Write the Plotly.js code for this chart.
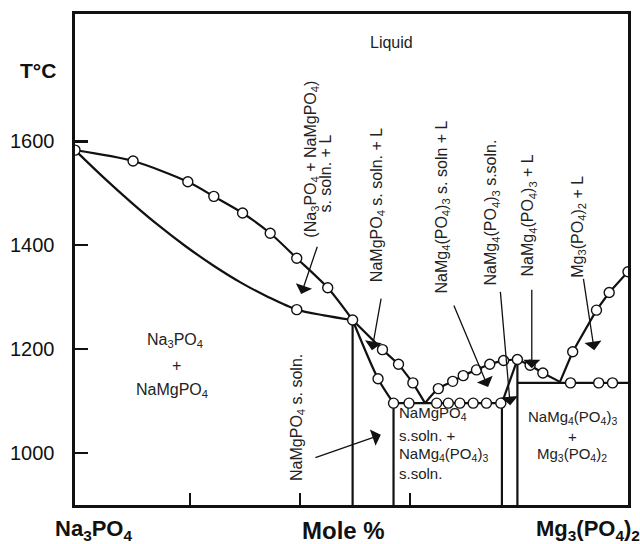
<!DOCTYPE html>
<html>
<head>
<meta charset="utf-8">
<script src="https://cdn.plot.ly/plotly-3.0.1.min.js"></script>
<style>html,body{margin:0;padding:0;background:#fff;}#chart{width:640px;height:544px;}</style>
</head>
<body>
<div id="chart"></div>
<script>
// Composition: mole % Mg3(PO4)2 ; temperature: °C
// Liquidus, Na3PO4 side down to NaMgPO4 congruent point
const liqAX = [0, 10.5, 20.4, 25.1, 30.3, 35.3, 40.1, 45.7, 50.2];
const liqAT = [1583, 1562, 1522, 1494, 1462, 1423, 1375, 1318, 1256];
// Liquidus from 50% down to first eutectic
const liqBX = [50.2, 55.6, 58.5, 61.1, 63.3];
const liqBT = [1256, 1199, 1171, 1135, 1096];
// Solidus (Na3PO4 + NaMgPO4) lower curve
const solAX = [0, 5, 10, 15, 20, 25, 30, 35, 40.1, 45, 50.2];
const solAT = [1583, 1532, 1484, 1439, 1398, 1361, 1328, 1300, 1276, 1265, 1256];
// NaMgPO4 s.soln. boundary
const solBX = [50.2, 54.8, 57.6];
const solBT = [1256, 1143, 1096];
// Eutectic line 1
const eut1X = [57.6, 77.2];
const eut1T = [1096, 1096];
// NaMg4(PO4)3 liquidus, rising from eutectic to the maximum and down to eutectic 2
const liqCX = [63.3, 65.7, 68.3, 70.2, 72.6, 75.0, 77.5, 80.0];
const liqCT = [1096, 1124, 1138, 1149, 1160, 1171, 1178, 1180];
const liqDX = [80.0, 82.3, 84.6, 87.7];
const liqDT = [1180, 1169, 1154, 1137];
// NaMg4(PO4)3 s.soln. boundary
const solCX = [80.0, 77.2];
const solCT = [1180, 1096];
// Eutectic line 2
const eut2X = [80, 100];
const eut2T = [1135, 1135];
// Mg3(PO4)2 liquidus
const liqEX = [87.7, 90.0, 94.3, 96.6, 100];
const liqET = [1137, 1195, 1275, 1309, 1349];
// Vertical phase boundaries (composition, top temperature)
const vertX = [50.2, 57.6, 77.2, 80.0];
const vertTop = [1256, 1096, 1096, 1180];
const axisBottomT = 900;
// Experimental points (open circles)
const ptX = [0, 10.5, 20.4, 25.1, 30.3, 35.3, 40.1, 45.7, 50.2, 55.6, 58.5, 61.1,
             40.1, 54.8,
             57.6, 60.4, 65.4, 67.5, 69.6, 72.0, 74.4, 77.0,
             65.7, 68.3, 70.2, 72.6, 75.0, 77.5, 80.0, 82.3, 84.6,
             89.6, 94.7, 97.2,
             90.0, 94.3, 96.6, 100];
const ptT = [1583, 1562, 1522, 1494, 1462, 1423, 1375, 1318, 1256, 1199, 1171, 1135,
             1276, 1143,
             1096, 1096, 1096, 1096, 1096, 1096, 1096, 1096,
             1124, 1138, 1149, 1160, 1171, 1178, 1180, 1169, 1154,
             1135, 1135, 1135,
             1195, 1275, 1309, 1349];
// Axis ticks
const yTicks = [1000, 1200, 1400, 1600];
const yTickText = ['1000', '1200', '1400', '1600'];
const xTicks = [20.8, 40.6, 60.5];

const LW = 2.2, C = '#111';
const FONT = 'Liberation Sans, Arial, sans-serif';
function line(x, y, shape) {
  return {x: x, y: y, type: 'scatter', mode: 'lines', line: {color: C, width: LW, shape: shape || 'linear', smoothing: 0.8}, hoverinfo: 'skip', showlegend: false};
}
const traces = [
  line(liqAX, liqAT, 'spline'),
  line(liqBX, liqBT),
  line(solAX, solAT, 'spline'),
  line(solBX, solBT, 'spline'),
  line(eut1X, eut1T),
  line(liqCX, liqCT, 'spline'),
  line(liqDX, liqDT),
  line(solCX, solCT),
  line(eut2X, eut2T),
  line(liqEX, liqET),
];
vertX.forEach((vx, i) => traces.push(line([vx, vx], [axisBottomT, vertTop[i]])));
traces.push({x: ptX, y: ptT, type: 'scatter', mode: 'markers', marker: {symbol: 'circle', size: 10, color: '#fff', line: {color: C, width: 1.4}}, hoverinfo: 'skip', showlegend: false});

const lab = 16;
function txt(x, y, t, opts) {
  return Object.assign({x: x, y: y, xref: 'x', yref: 'y', text: t, showarrow: false, xanchor: 'center', yanchor: 'middle',
    font: {family: FONT, size: lab, color: '#222'}}, opts || {});
}
function rot(x, y, t) { return txt(x, y, t, {textangle: -90}); }
const boxFont = {family: FONT, size: 15, color: '#222'};
function box(x, y, t, anchor) { return txt(x, y, t, {xanchor: anchor || 'center', font: boxFont}); }
function arr(x, y, ax, ay) {
  return {x: x, y: y, ax: ax, ay: ay, xref: 'x', yref: 'y', axref: 'x', ayref: 'y', text: '', showarrow: true, arrowhead: 1, arrowsize: 2.2, arrowwidth: 1.3, arrowcolor: C, standoff: 0};
}
// pixel-positioned axis labels (outside the plot area)
const W = 640, H = 544, M = {l: 75, r: 12, t: 14, b: 39};
const pw = W - M.l - M.r, ph = H - M.t - M.b;
function pix(px, py, t, size) {
  return {x: (px - M.l) / pw, y: (H - M.b - py) / ph, xref: 'paper', yref: 'paper', xanchor: 'center', yanchor: 'middle',
    text: t, showarrow: false, font: {family: FONT, size: size, color: '#111'}};
}
const annotations = [
  txt(57.3, 1790, 'Liquid'),
  rot(42.8, 1566, '(Na<sub>3</sub>PO<sub>4</sub> + NaMgPO<sub>4</sub>)'),
  rot(45.3, 1537, 's. soln. + L'),
  rot(54.6, 1477, 'NaMgPO<sub>4</sub> s. soln. + L'),
  rot(66.5, 1474, 'NaMg<sub>4</sub>(PO<sub>4</sub>)<sub>3</sub> s. soln + L'),
  rot(75.4, 1463, 'NaMg<sub>4</sub>(PO<sub>4</sub>)<sub>3</sub> s.soln.'),
  rot(82.0, 1458, 'NaMg<sub>4</sub>(PO<sub>4</sub>)<sub>3</sub> + L'),
  rot(91.0, 1436, 'Mg<sub>3</sub>(PO<sub>4</sub>)<sub>2</sub> + L'),
  rot(40.1, 1069, 'NaMgPO<sub>4</sub> s. soln.'),
  txt(18.1, 1217, 'Na<sub>3</sub>PO<sub>4</sub>'),
  txt(18.4, 1169, '+'),
  txt(17.6, 1121, 'NaMgPO<sub>4</sub>'),
  box(58.3, 1077, 'NaMgPO<sub>4</sub>', 'left'),
  box(58.3, 1033, 's.soln. +', 'left'),
  box(58.3, 998, 'NaMg<sub>4</sub>(PO<sub>4</sub>)<sub>3</sub>', 'left'),
  box(58.3, 961, 's.soln.', 'left'),
  box(89.9, 1069, 'NaMg<sub>4</sub>(PO<sub>4</sub>)<sub>3</sub>'),
  box(89.9, 1031, '+'),
  box(89.9, 997, 'Mg<sub>3</sub>(PO<sub>4</sub>)<sub>2</sub>'),
  // arrows
  arr(40.9, 1306, 43.9, 1400),
  arr(53.7, 1198, 55.4, 1300),
  arr(74.7, 1127, 68.4, 1287),
  arr(78.7, 1092, 76.9, 1313),
  arr(82.6, 1163, 82.6, 1317),
  arr(93.9, 1198, 91.9, 1338),
  arr(55.3, 1035, 43.2, 990),
  // axis labels
  pix(38, 71, '<b>T°C</b>', 21),
  pix(93, 530, '<b>Na<sub>3</sub>PO<sub>4</sub></b>', 22),
  pix(343, 530, '<b>Mole %</b>', 24),
  pix(588, 530, '<b>Mg<sub>3</sub>(PO<sub>4</sub>)<sub>2</sub></b>', 22),
];

const layout = {
  width: W, height: H,
  margin: M,
  paper_bgcolor: '#fff', plot_bgcolor: '#fff',
  showlegend: false,
  xaxis: {range: [0, 100], showgrid: false, zeroline: false, showline: true, linewidth: 2.6, linecolor: C, mirror: true,
          ticks: 'inside', tickvals: xTicks, ticklen: 12, tickwidth: 2, tickcolor: C, showticklabels: false},
  yaxis: {range: [900, 1845], showgrid: false, zeroline: false, showline: true, linewidth: 2.6, linecolor: C, mirror: true,
          ticks: 'inside', tickvals: yTicks, ticktext: yTickText, ticklen: 13, tickwidth: 2.5, tickcolor: C,
          ticklabelstandoff: 14, tickfont: {family: FONT, size: 20, color: '#111'}},
  annotations: annotations
};
Plotly.newPlot('chart', traces, layout, {staticPlot: true, displayModeBar: false});
</script>
</body>
</html>
